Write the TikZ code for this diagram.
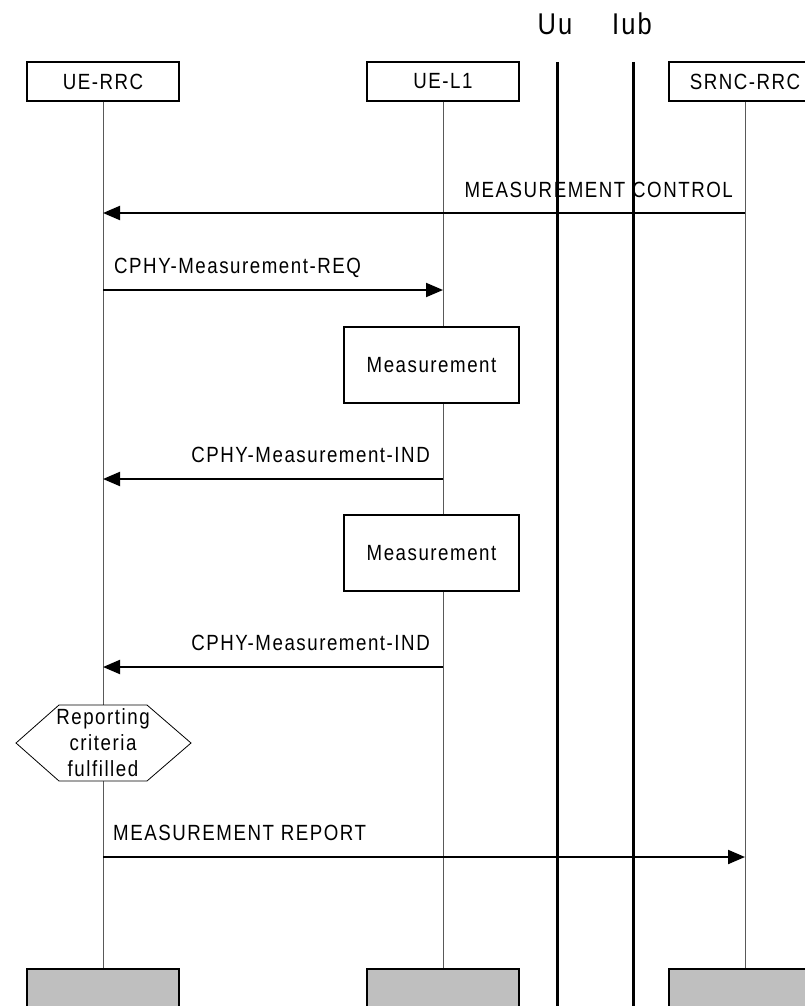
\documentclass[tikz,border=0pt]{standalone}
\usepackage{fontspec}
\setmainfont{Liberation Sans}[FakeStretch=0.85, LetterSpace=7]
\usetikzlibrary{arrows.meta}
\begin{document}
\begin{tikzpicture}[x=1pt,y=-1pt,
  txt/.style={font=\fontsize{22}{26}\selectfont},
  ent/.style={draw, line width=1.3pt, fill=white, minimum width=152pt, minimum height=39pt, inner sep=0pt, txt},
  endbox/.style={draw, line width=2pt, fill=black!25, minimum width=152pt, minimum height=45pt, inner sep=0pt},
  procbox/.style={draw, line width=1.3pt, fill=white, minimum width=175pt, minimum height=76pt, inner sep=0pt, txt},
  life/.style={draw=black!65, line width=0.9pt},
  iface/.style={line width=3pt},
  msg/.style={line width=2pt, -{Triangle[length=17pt,width=14pt]}},
  lbl/.style={txt, inner sep=0pt},
  big/.style={font=\fontsize{30}{34}\selectfont, inner sep=0pt}]
\useasboundingbox (0,0) rectangle (805,1006);

% entities
\node[ent] (rrc) at (103,81.5) {UE-RRC};
\node[ent] (l1) at (443,81.5) {UE-L1};
\node[ent] (srnc) at (745,81.5) {SRNC-RRC};
\node[endbox] (rrcE) at (103,991.5) {};
\node[endbox] (l1E) at (443,991.5) {};
\node[endbox] (srncE) at (745,991.5) {};

% lifelines
\draw[life] (rrc.south) -- (rrcE.north);
\draw[life] (l1.south) -- (l1E.north);
\draw[life] (srnc.south) -- (srncE.north);

% process boxes
\node[procbox] (meas1) at (431.5,365) {Measurement};
\node[procbox] (meas2) at (431.5,553) {Measurement};

% hexagon
\coordinate (hx) at (103,743);
\draw[line width=0.8pt, fill=white] (16,743) -- (59,705) -- (147,705) -- (191,743) -- (147,781) -- (59,781) -- cycle;
\node[txt, align=center, inner sep=0pt] (crit) at (hx) {Reporting\\criteria\\fulfilled};

% message points
\coordinate (a1) at (745,213); \coordinate (a0) at (103,213);
\coordinate (b0) at (103,290); \coordinate (b1) at (443,290);
\coordinate (c1) at (443,479); \coordinate (c0) at (103,479);
\coordinate (d1) at (443,667); \coordinate (d0) at (103,667);
\coordinate (e0) at (103,857); \coordinate (e1) at (745,857);

\draw[msg] (a1) -- (a0);
\node[lbl, anchor=base east] (la) at (733,197) {MEASUREMENT CONTROL};
\draw[msg] (b0) -- (b1);
\node[lbl, anchor=base west] (lb) at (114,273) {CPHY-Measurement-REQ};
\draw[msg] (c1) -- (c0);
\node[lbl, anchor=base east] (lc) at (430,462) {CPHY-Measurement-IND};
\draw[msg] (d1) -- (d0);
\node[lbl, anchor=base east] (ld) at (430,650) {CPHY-Measurement-IND};
\draw[msg] (e0) -- (e1);
\node[lbl, anchor=base west] (le) at (113,840) {MEASUREMENT REPORT};

% interfaces
\coordinate (uuT) at (557,62); \coordinate (uuB) at (557,1006);
\coordinate (iubT) at (633,62); \coordinate (iubB) at (633,1006);
\draw[iface] (uuT) -- (uuB);
\draw[iface] (iubT) -- (iubB);
\node[big, anchor=base] (uu) at (555,35) {Uu};
\node[big, anchor=base] (iub) at (632,35) {Iub};
\end{tikzpicture}
\end{document}
